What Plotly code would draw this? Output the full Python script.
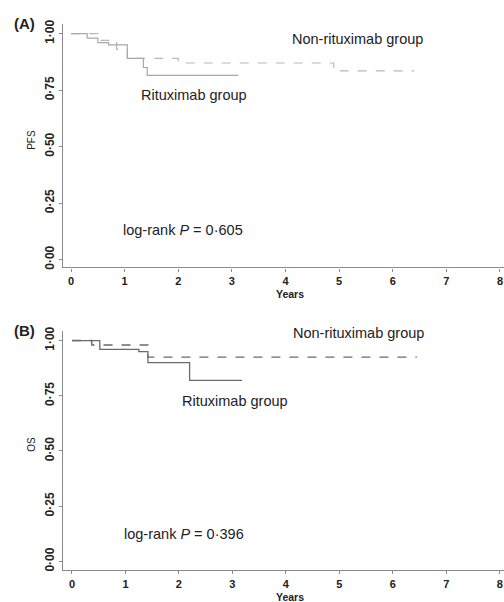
import plotly.graph_objects as go

# Kaplan-Meier step data (years, survival probability)
pfs_ritux_t = [0, 0.3, 0.5, 0.7, 1.05, 1.35, 1.42, 3.12]
pfs_ritux_s = [1.00, 0.98, 0.96, 0.95, 0.89, 0.85, 0.815, 0.815]
pfs_non_t = [0, 0.5, 0.85, 1.05, 2.0, 4.9, 6.4]
pfs_non_s = [1.00, 0.97, 0.93, 0.89, 0.87, 0.835, 0.835]

os_ritux_t = [0, 0.52, 1.25, 1.42, 2.2, 3.18]
os_ritux_s = [1.00, 0.96, 0.95, 0.90, 0.82, 0.82]
os_non_t = [0, 0.37, 1.42, 6.45]
os_non_s = [1.00, 0.98, 0.925, 0.925]

x_ticks = [0, 1, 2, 3, 4, 5, 6, 7, 8]
y_ticks = [0, 0.25, 0.5, 0.75, 1.0]
y_tick_labels = ["0·00", "0·25", "0·50", "0·75", "1·00"]

panel_labels = ["(A)", "(B)"]
y_titles = ["PFS", "OS"]
p_texts = ["log-rank <i>P</i> = 0·605", "log-rank <i>P</i> = 0·396"]
group_names = ["Non-rituximab group", "Rituximab group"]

FONT = "Liberation Sans, Arial, sans-serif"
TXT = "#222222"
AX = "#8a8a8a"

fig = go.Figure()

# Panel A: PFS (pale print)
fig.add_trace(go.Scatter(x=pfs_non_t, y=pfs_non_s, mode="lines", line_shape="hv",
                         line=dict(color="#b8b8b8", width=1.2, dash="dash"),
                         xaxis="x", yaxis="y", showlegend=False))
fig.add_trace(go.Scatter(x=pfs_ritux_t, y=pfs_ritux_s, mode="lines", line_shape="hv",
                         line=dict(color="#a8a8a8", width=1.2),
                         xaxis="x", yaxis="y", showlegend=False))

# Panel B: OS
fig.add_trace(go.Scatter(x=os_non_t, y=os_non_s, mode="lines", line_shape="hv",
                         line=dict(color="#6a6a6a", width=1.4, dash="dash"),
                         xaxis="x2", yaxis="y2", showlegend=False))
fig.add_trace(go.Scatter(x=os_ritux_t, y=os_ritux_s, mode="lines", line_shape="hv",
                         line=dict(color="#6a6a6a", width=1.3),
                         xaxis="x2", yaxis="y2", showlegend=False))

xtickfont = dict(family=FONT, size=11, color=TXT, weight="bold")
ytickfont = dict(family=FONT, size=12, color=TXT, weight="bold")
xcommon = dict(tickmode="array", tickvals=x_ticks, ticks="outside", ticklen=3,
               tickcolor=AX, showline=True, linecolor=AX, linewidth=1.2,
               showgrid=False, zeroline=False, tickfont=xtickfont)
ycommon = dict(tickmode="array", tickvals=y_ticks, ticktext=y_tick_labels,
               tickangle=-90, ticks="outside", ticklen=3, tickcolor=AX,
               showline=True, linecolor=AX, linewidth=1.2,
               showgrid=False, zeroline=False, tickfont=ytickfont)

fig.update_layout(
    width=504, height=602,
    margin=dict(l=63, r=0, t=0, b=0),
    paper_bgcolor="white", plot_bgcolor="white",
    xaxis=dict(domain=[0, 1], range=[-0.15, 8.075], anchor="y", **xcommon),
    yaxis=dict(domain=[0.558, 0.967], range=[-0.035, 1.044], anchor="x", **ycommon),
    xaxis2=dict(domain=[0, 1], range=[-0.168, 8.08], anchor="y2", **xcommon),
    yaxis2=dict(domain=[0.05, 0.452], range=[-0.04, 1.045], anchor="x2", **ycommon),
)

ann = []
for i, (xa, ya) in enumerate([("x", "y"), ("x2", "y2")]):
    top = 0.967 if i == 0 else 0.452
    bot = 0.558 if i == 0 else 0.05
    ann.append(dict(text="<b>" + panel_labels[i] + "</b>", xref="paper", yref="paper",
                    x=-0.087, y=top - 0.0, xanchor="center", yanchor="middle",
                    showarrow=False, font=dict(family=FONT, size=15, color=TXT)))
    ann.append(dict(text=y_titles[i], xref="paper", yref="paper",
                    x=-0.072, y=(top + bot) / 2 + 0.01, textangle=-90,
                    xanchor="center", yanchor="middle", showarrow=False,
                    font=dict(family=FONT, size=10, color=TXT)))
    ann.append(dict(text="<b>Years</b>", xref="paper", yref="paper",
                    x=0.515, y=bot - 0.045, xanchor="center", yanchor="middle",
                    showarrow=False, font=dict(family=FONT, size=10.5, color=TXT)))
    ann.append(dict(text=p_texts[i], xref=xa, yref=ya,
                    x=0.93, y=0.13 if i == 0 else 0.125, xanchor="left", yanchor="middle",
                    showarrow=False, font=dict(family=FONT, size=14.5, color=TXT)))

# group labels
ann.append(dict(text=group_names[0], xref="x", yref="y", x=5.35, y=0.977,
                xanchor="center", yanchor="middle", showarrow=False,
                font=dict(family=FONT, size=14.5, color=TXT)))
ann.append(dict(text=group_names[1], xref="x", yref="y", x=2.3, y=0.728,
                xanchor="center", yanchor="middle", showarrow=False,
                font=dict(family=FONT, size=14.5, color=TXT)))
ann.append(dict(text=group_names[0], xref="x2", yref="y2", x=5.35, y=1.035,
                xanchor="center", yanchor="middle", showarrow=False,
                font=dict(family=FONT, size=14.5, color=TXT)))
ann.append(dict(text=group_names[1], xref="x2", yref="y2", x=3.05, y=0.725,
                xanchor="center", yanchor="middle", showarrow=False,
                font=dict(family=FONT, size=14.5, color=TXT)))
fig.update_layout(annotations=ann)

fig.write_html("out.html")
